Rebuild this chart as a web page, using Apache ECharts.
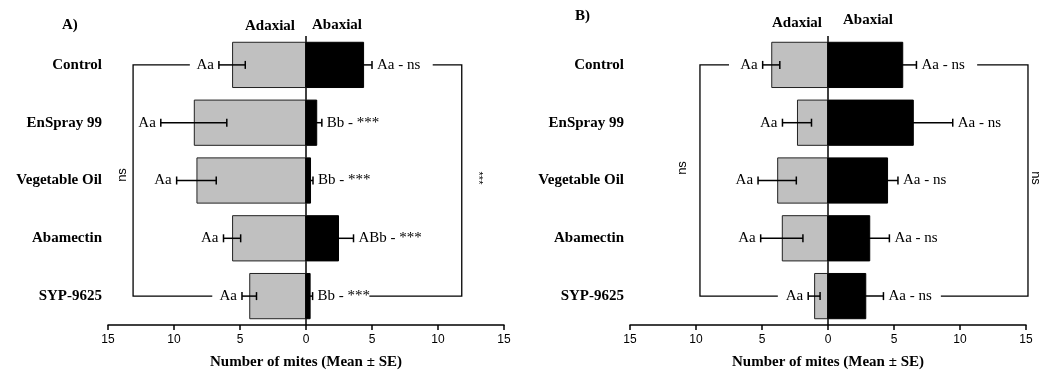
<!DOCTYPE html>
<html>
<head>
<meta charset="utf-8">
<script src="https://cdn.jsdelivr.net/npm/echarts@6/dist/echarts.min.js"></script>
<style>
  html, body { margin: 0; padding: 0; background: #fff; }
  #chart { width: 1042px; height: 375px; }
</style>
</head>
<body>
<div id="chart"></div>
<script>
// 数据
const categories = ["Control", "EnSpray 99", "Vegetable Oil", "Abamectin", "SYP-9625"];
const tickValues = [-15, -10, -5, 0, 5, 10, 15];

// A) panel
const aAdaxial = [5.6, 8.5, 8.3, 5.6, 4.3];
const aAdaxialSE = [1.0, 2.5, 1.5, 0.65, 0.55];
const aAbaxial = [4.4, 0.85, 0.38, 2.5, 0.35];
const aAbaxialSE = [0.6, 0.35, 0.15, 1.1, 0.15];
const aAdaxialLetters = ["Aa", "Aa", "Aa", "Aa", "Aa"];
const aAbaxialLetters = ["Aa - ns", "Bb - ***", "Bb - ***", "ABb - ***", "Bb - ***"];

// B) panel
const bAdaxial = [4.3, 2.35, 3.85, 3.5, 1.05];
const bAdaxialSE = [0.65, 1.1, 1.45, 1.6, 0.45];
const bAbaxial = [5.7, 6.5, 4.55, 3.2, 2.9];
const bAbaxialSE = [1.0, 2.95, 0.75, 1.45, 1.3];
const bAdaxialLetters = ["Aa", "Aa", "Aa", "Aa", "Aa"];
const bAbaxialLetters = ["Aa - ns", "Aa - ns", "Aa - ns", "Aa - ns", "Aa - ns"];

const SERIF = "'Liberation Serif', 'Times New Roman', serif";
const SANS = "'Liberation Sans', Arial, sans-serif";

// 误差线 + 字母标注
function errorRender(params, api) {
  const v = api.value(0);
  const se = api.value(1);
  const idx = api.value(2);
  const label = api.value(3);
  const sign = v < 0 ? -1 : 1;
  const p1 = api.coord([v - se, idx]);
  const p2 = api.coord([v + se, idx]);
  const outer = sign < 0 ? p1 : p2;
  const cap = 4;
  const style = { stroke: "#000", lineWidth: 1.5 };
  return {
    type: "group",
    children: [
      { type: "line", shape: { x1: p1[0], y1: p1[1], x2: p2[0], y2: p2[1] }, style },
      { type: "line", shape: { x1: p1[0], y1: p1[1] - cap, x2: p1[0], y2: p1[1] + cap }, style },
      { type: "line", shape: { x1: p2[0], y1: p2[1] - cap, x2: p2[0], y2: p2[1] + cap }, style },
      {
        type: "text",
        x: outer[0] + sign * 5,
        y: outer[1],
        style: {
          text: label,
          fill: "#000",
          font: "15px " + SERIF,
          align: sign < 0 ? "right" : "left",
          verticalAlign: "middle",
        },
      },
    ],
  };
}

function errorData(vals, ses, letters, sign) {
  return vals.map((v, i) => [sign * v, ses[i], i, letters[i]]);
}

// 括号 (显著性标注)
function bracketRender(b) {
  return function (params, api) {
    const top = api.coord([b.x, 0]);
    const bot = api.coord([b.x, categories.length - 1]);
    const topEnd = api.coord([b.topEnd, 0]);
    const botEnd = api.coord([b.botEnd, categories.length - 1]);
    const txt = api.coord([b.textX, 0]);
    const style = { stroke: "#000", lineWidth: 1.3, fill: null };
    return {
      type: "group",
      children: [
        {
          type: "polyline",
          shape: { points: [[topEnd[0], top[1]], [top[0], top[1]], [bot[0], bot[1]], [botEnd[0], bot[1]]] },
          style,
        },
        {
          type: "text",
          x: txt[0],
          y: b.textY,
          rotation: b.rotation,
          style: {
            text: b.text,
            fill: "#000",
            font: b.font,
            align: "center",
            verticalAlign: "middle",
          },
        },
      ],
    };
  };
}

const brackets = [
  { grid: 0, x: -13.1, topEnd: -8.8, botEnd: -7.1, textX: -13.9, textY: 175, text: "ns", rotation: Math.PI / 2, font: "13px " + SANS },
  { grid: 0, x: 11.8, topEnd: 9.6, botEnd: 4.8, textX: 13.0, textY: 178, text: "***", rotation: -Math.PI / 2, font: "11px " + SANS },
  { grid: 1, x: -9.7, topEnd: -7.5, botEnd: -3.8, textX: -11.0, textY: 168, text: "ns", rotation: Math.PI / 2, font: "13px " + SANS },
  { grid: 1, x: 15.15, topEnd: 11.3, botEnd: 8.55, textX: 15.75, textY: 178, text: "ns", rotation: -Math.PI / 2, font: "13px " + SANS },
];

function xAxisFor(gridIndex) {
  return {
    type: "value",
    gridIndex,
    min: tickValues[0],
    max: tickValues[tickValues.length - 1],
    interval: 5,
    name: "Number of mites (Mean ± SE)",
    nameLocation: "middle",
    nameGap: 30,
    nameTextStyle: { fontFamily: SERIF, fontWeight: "bold", fontSize: 15, color: "#000" },
    axisLine: { show: true, lineStyle: { color: "#000", width: 1.5 } },
    axisTick: { show: true, length: 5, lineStyle: { color: "#000", width: 1.5 } },
    axisLabel: {
      color: "#000",
      fontFamily: SANS,
      fontSize: 12,
      margin: 9,
      formatter: (val) => `${Math.abs(val)}`,
    },
    splitLine: { show: false },
  };
}

function yAxisFor(gridIndex) {
  return {
    type: "category",
    gridIndex,
    inverse: true,
    data: categories,
    axisLine: { show: false },
    axisTick: { show: false },
    axisLabel: { color: "#000", fontFamily: SERIF, fontWeight: "bold", fontSize: 15, margin: 6 },
  };
}

function barSeries(gridIndex, vals, sign, color) {
  return {
    type: "bar",
    xAxisIndex: gridIndex,
    yAxisIndex: gridIndex,
    data: vals.map((v) => sign * v),
    barGap: "-100%",
    barCategoryGap: "20%",
    itemStyle: {
      color,
      borderColor: sign < 0 ? "#222" : "#000",
      borderWidth: 1,
    },
    silent: true,
  };
}

function centerLine(gridIndex) {
  return {
    type: "line",
    xAxisIndex: gridIndex,
    yAxisIndex: gridIndex,
    data: [],
    z: 5,
    markLine: {
      silent: true,
      symbol: "none",
      label: { show: false },
      lineStyle: { color: "#000", width: 1.5, type: "solid" },
      data: [{ xAxis: 0 }],
    },
  };
}

function errorSeries(gridIndex, data) {
  return {
    type: "custom",
    xAxisIndex: gridIndex,
    yAxisIndex: gridIndex,
    renderItem: errorRender,
    data,
    clip: false,
    z: 6,
    silent: true,
  };
}

const options = {
  animation: false,
  grid: [
    { left: 108, width: 396, top: 36, height: 291 },
    { left: 630, width: 396, top: 36, height: 291 },
  ],
  xAxis: [xAxisFor(0), xAxisFor(1)],
  yAxis: [yAxisFor(0), yAxisFor(1)],
  graphic: [
    { type: "text", left: 62, top: 18, style: { text: "A)", font: "bold 15px " + SERIF, fill: "#000" } },
    { type: "text", left: 575, top: 9, style: { text: "B)", font: "bold 15px " + SERIF, fill: "#000" } },
    { type: "text", left: 245, top: 19, style: { text: "Adaxial", font: "bold 15px " + SERIF, fill: "#000" } },
    { type: "text", left: 312, top: 18, style: { text: "Abaxial", font: "bold 15px " + SERIF, fill: "#000" } },
    { type: "text", left: 772, top: 16, style: { text: "Adaxial", font: "bold 15px " + SERIF, fill: "#000" } },
    { type: "text", left: 843, top: 13, style: { text: "Abaxial", font: "bold 15px " + SERIF, fill: "#000" } },
  ],
  series: [
    barSeries(0, aAdaxial, -1, "#c0c0c0"),
    barSeries(0, aAbaxial, 1, "#000"),
    barSeries(1, bAdaxial, -1, "#c0c0c0"),
    barSeries(1, bAbaxial, 1, "#000"),
    centerLine(0),
    centerLine(1),
    errorSeries(0, errorData(aAdaxial, aAdaxialSE, aAdaxialLetters, -1)),
    errorSeries(0, errorData(aAbaxial, aAbaxialSE, aAbaxialLetters, 1)),
    errorSeries(1, errorData(bAdaxial, bAdaxialSE, bAdaxialLetters, -1)),
    errorSeries(1, errorData(bAbaxial, bAbaxialSE, bAbaxialLetters, 1)),
    ...brackets.map((b) => ({
      type: "custom",
      xAxisIndex: b.grid,
      yAxisIndex: b.grid,
      renderItem: bracketRender(b),
      data: [[0]],
      clip: false,
      silent: true,
    })),
  ],
};

const chart = echarts.init(document.getElementById("chart"));
chart.setOption(options);
</script>
</body>
</html>
